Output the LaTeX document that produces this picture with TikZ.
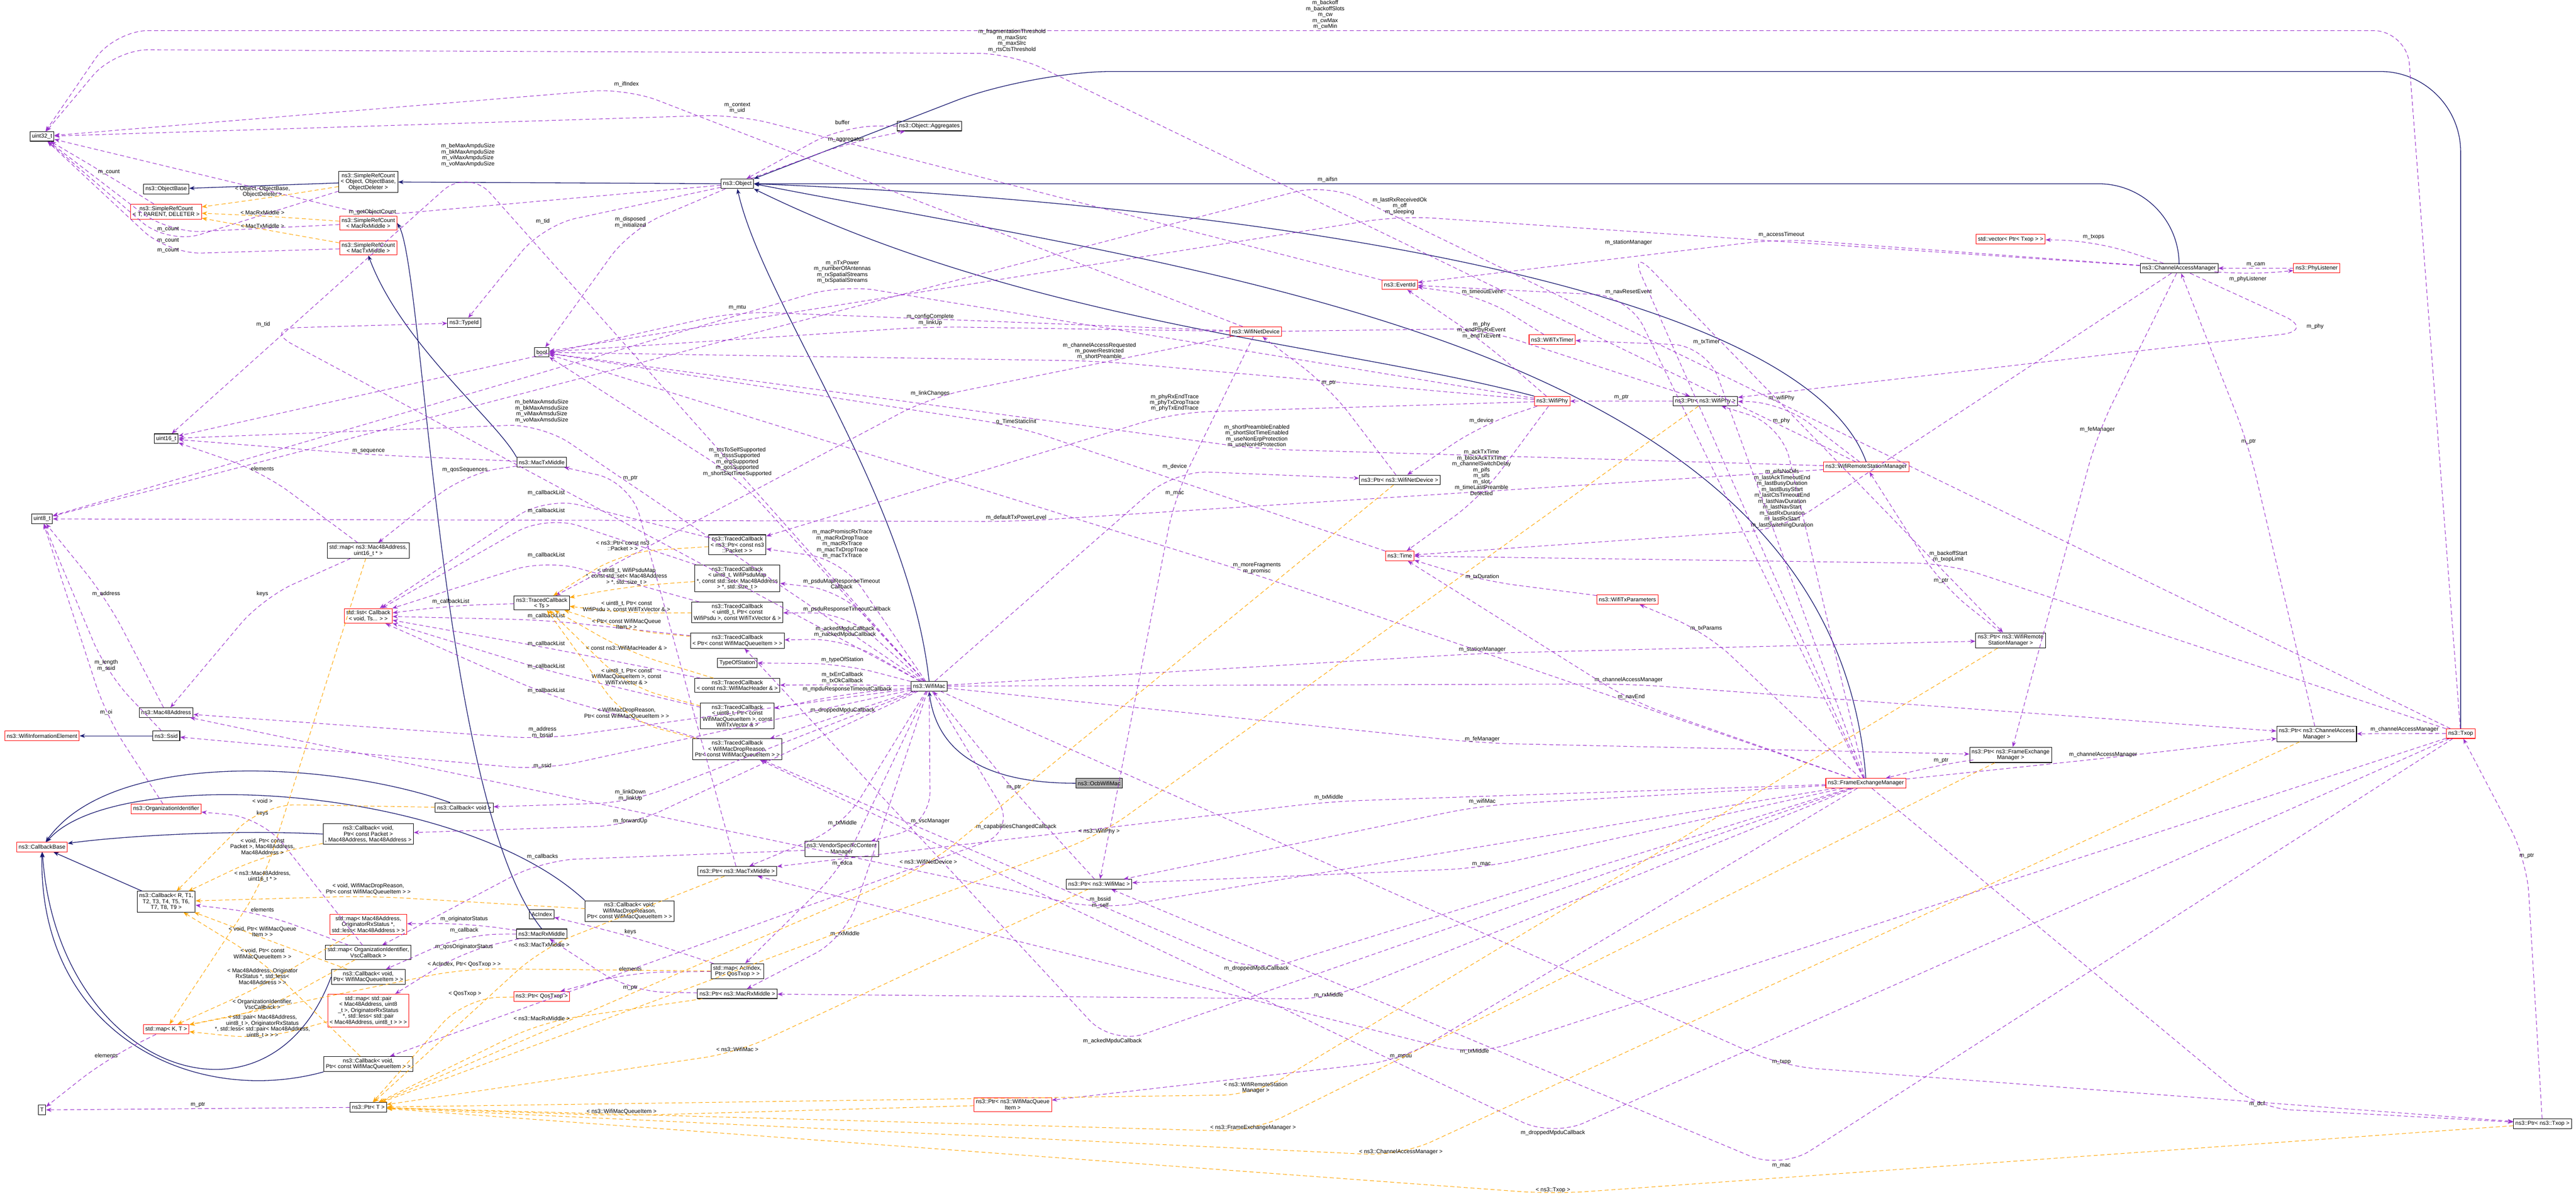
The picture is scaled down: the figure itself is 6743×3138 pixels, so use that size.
\documentclass[tikz,border=0pt]{standalone}
\usepackage{fontspec}
\setmainfont{Liberation Sans}
\usetikzlibrary{arrows.meta}
\definecolor{usecol}{HTML}{9A32CD}
\definecolor{inhcol}{HTML}{191970}
\definecolor{tplcol}{HTML}{FFA500}
\tikzset{
  cls/.style={draw=black, fill=white, font=\fontsize{4.2}{4.4}\selectfont, inner sep=1.5pt, align=center, minimum height=0.25cm},
  red/.style={cls, draw=red},
  cur/.style={cls, fill=black!30},
  lbl/.style={text=black, font=\fontsize{4.2}{4.4}\selectfont, inner sep=0.8pt, align=center, anchor=south},
  use/.style={usecol, densely dashed, line width=0.4pt, rounded corners=25pt, -{Stealth[length=4pt,width=3pt]}},
  inh/.style={inhcol, line width=0.5pt, -{Stealth[length=4pt,width=3pt]}},
  tpl/.style={tplcol, densely dashed, line width=0.4pt, rounded corners=25pt, -{Stealth[length=4pt,width=3pt]}}
}
\begin{document}
\begin{tikzpicture}[x=0.01cm,y=-0.01cm]
\useasboundingbox (0,0) rectangle (6743,3138);
% left column
\node[cls] (u32) at (110,357) {uint32\_t};
\node[cls] (u8) at (110,1358) {uint8\_t};
\node[red] (wie) at (110,1926) {ns3::WifiInformationElement};
\node[red] (cbbase) at (110,2217) {ns3::CallbackBase};
\node[cls] (tt) at (110,2905) {T};
\node[cls] (objbase) at (435,495) {ns3::ObjectBase};
\node[red] (srct) at (435,554) {ns3::SimpleRefCount\\< T, PARENT, DELETER >};
\node[cls] (u16) at (435,1148) {uint16\_t};
\node[cls] (mac48) at (435,1865) {ns3::Mac48Address};
\node[cls] (ssid) at (435,1926) {ns3::Ssid};
\node[red] (orgid) at (435,2117) {ns3::OrganizationIdentifier};
\node[cls] (cbr) at (435,2360) {ns3::Callback< R, T1,\\T2, T3, T4, T5, T6,\\T7, T8, T9 >};
\node[red] (mapkt) at (435,2694) {std::map< K, T >};
% second column
\node[cls] (srcobj) at (964,476) {ns3::SimpleRefCount\\< Object, ObjectBase,\\ObjectDeleter >};
\node[red] (srcrx) at (964,584) {ns3::SimpleRefCount\\< MacRxMiddle >};
\node[red] (srctx) at (964,649) {ns3::SimpleRefCount\\< MacTxMiddle >};
\node[cls] (mapseq) at (964,1441) {std::map< ns3::Mac48Address,\\uint16\_t * >};
\node[red] (cblist) at (964,1612) {std::list< Callback\\< void, Ts... > >};
\node[cls] (cbfwd) at (964,2183) {ns3::Callback< void,\\Ptr< const Packet >\\, Mac48Address, Mac48Address >};
\node[red] (maporig) at (964,2419) {std::map< Mac48Address,\\OriginatorRxStatus *,\\std::less< Mac48Address > >};
\node[cls] (mapvsc) at (964,2493) {std::map< OrganizationIdentifier,\\VscCallback >};
\node[cls] (cbitem) at (964,2557) {ns3::Callback< void,\\Ptr< WifiMacQueueItem > >};
\node[red] (mappair) at (964,2645) {std::map< std::pair\\< Mac48Address, uint8\\\_t >, OriginatorRxStatus\\*, std::less< std::pair\\< Mac48Address, uint8\_t > > >};
\node[cls] (cbcitem) at (964,2785) {ns3::Callback< void,\\Ptr< const WifiMacQueueItem > >};
\node[cls] (ptrt) at (964,2898) {ns3::Ptr< T >};
% third column
\node[cls] (typeid) at (1215,845) {ns3::TypeId};
\node[cls] (cbvoid) at (1215,2114) {ns3::Callback< void >};
\node[cls] (bool) at (1418,922) {bool};
\node[cls] (txmid) at (1418,1210) {ns3::MacTxMiddle};
\node[cls] (tcts) at (1418,1578) {ns3::TracedCallback\\< Ts >};
\node[cls] (acidx) at (1418,2393) {AcIndex};
\node[cls] (rxmid) at (1418,2444) {ns3::MacRxMiddle};
\node[red] (ptrqos) at (1418,2608) {ns3::Ptr< QosTxop >};
\node[cls] (cbdrop) at (1648,2385) {ns3::Callback< void,\\WifiMacDropReason,\\Ptr< const WifiMacQueueItem > >};
% traced callbacks
\node[cls] (obj) at (1930,481) {ns3::Object};
\node[cls] (tcpkt) at (1930,1426) {ns3::TracedCallback\\< ns3::Ptr< const ns3\\::Packet > >};
\node[cls] (tcpsdumap) at (1930,1514) {ns3::TracedCallback\\< uint8\_t, WifiPsduMap\\*, const std::set< Mac48Address\\> *, std::size\_t >};
\node[cls] (tcpsdu) at (1930,1603) {ns3::TracedCallback\\< uint8\_t, Ptr< const\\WifiPsdu >, const WifiTxVector \& >};
\node[cls] (tcitem) at (1930,1677) {ns3::TracedCallback\\< Ptr< const WifiMacQueueItem > >};
\node[cls] (tos) at (1930,1735) {TypeOfStation};
\node[cls] (tchdr) at (1930,1794) {ns3::TracedCallback\\< const ns3::WifiMacHeader \& >};
\node[cls] (tcmpdu) at (1930,1874) {ns3::TracedCallback\\< uint8\_t, Ptr< const\\WifiMacQueueItem >, const\\WifiTxVector \& >};
\node[cls] (tcdrop) at (1930,1961) {ns3::TracedCallback\\< WifiMacDropReason,\\Ptr< const WifiMacQueueItem > >};
\node[cls] (ptrtx) at (1930,2280) {ns3::Ptr< ns3::MacTxMiddle >};
\node[cls] (mapedca) at (1930,2542) {std::map< AcIndex,\\Ptr< QosTxop > >};
\node[cls] (ptrrx) at (1930,2601) {ns3::Ptr< ns3::MacRxMiddle >};
\node[cls] (vsc) at (2203,2222) {ns3::VendorSpecificContent\\Manager};
% middle
\node[cls] (aggr) at (2433,330) {ns3::Object::Aggregates};
\node[cls] (wmac) at (2432,1796) {ns3::WifiMac};
\node[red] (ptritem) at (2651,2891) {ns3::Ptr< ns3::WifiMacQueue\\Item >};
\node[cur] (ocb) at (2877,2050) {ns3::OcbWifiMac};
\node[cls] (ptrmac) at (2877,2314) {ns3::Ptr< ns3::WifiMac >};
\node[red] (netdev) at (3287,868) {ns3::WifiNetDevice};
\node[red] (eventid) at (3664,745) {ns3::EventId};
\node[cls] (ptrdev) at (3664,1256) {ns3::Ptr< ns3::WifiNetDevice >};
\node[red] (time) at (3664,1455) {ns3::Time};
\node[red] (txtimer) at (4063,889) {ns3::WifiTxTimer};
\node[red] (phy) at (4063,1050) {ns3::WifiPhy};
\node[red] (txparams) at (4260,1569) {ns3::WifiTxParameters};
\node[cls] (ptrphy) at (4464,1050) {ns3::Ptr< ns3::WifiPhy >};
\node[red] (rsm) at (4885,1222) {ns3::WifiRemoteStationManager};
\node[red] (fem) at (4884,2050) {ns3::FrameExchangeManager};
% right
\node[red] (vectxop) at (5263,626) {std::vector< Ptr< Txop > >};
\node[cls] (cam) at (5704,702) {ns3::ChannelAccessManager};
\node[red] (phylist) at (6064,702) {ns3::PhyListener};
\node[cls] (ptrrsm) at (5263,1676) {ns3::Ptr< ns3::WifiRemote\\StationManager >};
\node[cls] (ptrfem) at (5263,1976) {ns3::Ptr< ns3::FrameExchange\\Manager >};
\node[cls] (ptrcam) at (6064,1921) {ns3::Ptr< ns3::ChannelAccess\\Manager >};
\node[red] (txop) at (6441,1920) {ns3::Txop};
\node[cls] (ptrtxop) at (6655,2941) {ns3::Ptr< ns3::Txop >};

% inheritance
\draw[inh] (srcobj) -- (objbase);
\draw[inh] (obj) -- (srcobj);
\draw[inh] (ssid) -- (wie);
\draw[inh, rounded corners=60pt] (txop.north) |- (2700,187) -- (obj.north east);
\draw[inh, rounded corners=60pt] (cam.north) |- (obj.east);
\draw[inh] (rsm.north) .. controls (4700,700) and (3000,520) .. (obj.east);
\draw[inh] (fem.north) .. controls (4800,900) and (3200,720) .. (obj.east);
\draw[inh] (phy.north west) .. controls (3500,900) and (2700,850) .. (obj.south east);
\draw[inh] (wmac.north) .. controls (2380,1300) and (2000,800) .. (obj.south);
\draw[inh] (ocb.west) .. controls (2550,2050) and (2450,1950) .. (wmac.south);
\draw[inh] (txmid.north west) .. controls (1300,1100) and (1050,900) .. (srctx.south);
\draw[inh] (rxmid.north) .. controls (1150,2100) and (1110,700) .. (srcrx.east);
\draw[inh] (cbr) -- (cbbase);
\draw[inh] (cbvoid) .. controls (900,2000) and (300,1950) .. (cbbase);
\draw[inh] (cbfwd.west) .. controls (600,2170) and (300,2190) .. (cbbase);
\draw[inh] (cbdrop.north west) .. controls (1200,2050) and (300,2000) .. (cbbase);
\draw[inh] (cbitem.west) .. controls (700,3000) and (150,2800) .. (cbbase);
\draw[inh] (cbcitem.south west) .. controls (500,2900) and (100,2700) .. (cbbase.south);

% members
\draw[use] (txop) -- (6300,80) -- (3469,80) node[lbl]{m\_backoff\\m\_backoffSlots\\m\_cw\\m\_cwMax\\m\_cwMin} -- (300,80) -- (u32);
\draw[use] (rsm) -- (2649,140) node[lbl]{m\_fragmentationThreshold\\m\_maxSsrc\\m\_maxSlrc\\m\_rtsCtsThreshold} -- (300,130) -- (u32);
\draw[use] (netdev) -- (1640,231) node[lbl]{m\_ifIndex} -- (u32);
\draw[use] (eventid) -- (1930,300) node[lbl]{m\_context\\m\_uid} -- (u32);
\draw[use] (obj) -- (975,565) node[lbl]{m\_getObjectCount} -- (u32);
\draw[use] (srcobj) -- (440,640) node[lbl]{m\_count} -- (u32);
\draw[use] (srct) -- (285,460) node[lbl]{m\_count} -- (u32);
\draw[use] (srcrx) -- (440,610) node[lbl]{m\_count} -- (u32);
\draw[use] (srctx) -- (440,665) node[lbl]{m\_count} -- (u32);
\draw[use] (obj) -- (1650,600) node[lbl]{m\_disposed\\m\_initialized} -- (bool);
\draw[use] (obj) -- (1421,590) node[lbl]{m\_tid} -- (typeid);
\draw[use] (wmac) -- (689,860) node[lbl]{m\_tid} -- (typeid);
\draw[use] (aggr) -- (2205,330) node[lbl]{buffer} -- (obj);
\draw[use] (obj) -- (2215,375) node[lbl]{m\_aggregates} -- (aggr);
\draw[use] (wmac) -- (1225,440) node[lbl]{m\_beMaxAmpduSize\\m\_bkMaxAmpduSize\\m\_viMaxAmpduSize\\m\_voMaxAmpduSize} -- (u16);
\draw[use] (wmac) -- (1418,1110) node[lbl]{m\_beMaxAmsduSize\\m\_bkMaxAmsduSize\\m\_viMaxAmsduSize\\m\_voMaxAmsduSize} -- (u16);
\draw[use] (txmid) -- (965,1190) node[lbl]{m\_sequence} -- (u16);
\draw[use] (txmid) -- (1217,1240) node[lbl]{m\_qosSequences} -- (mapseq);
\draw[use] (mapseq) -- (687,1235) node[lbl]{elements} -- (u16);
\draw[use] (mapseq) -- (687,1565) node[lbl]{keys} -- (mac48);
\draw[use] (mac48) -- (278,1565) node[lbl]{m\_address} -- (u8);
\draw[use] (ssid) -- (278,1760) node[lbl]{m\_length\\m\_ssid} -- (u8);
\draw[use] (orgid) -- (278,1875) node[lbl]{m\_oi} -- (u8);
\draw[use] (phy) -- (2205,745) node[lbl]{m\_nTxPower\\m\_numberOfAntennas\\m\_rxSpatialStreams\\m\_txSpatialStreams} -- (u8);
\draw[use] (rsm) -- (2660,1365) node[lbl]{m\_defaultTxPowerLevel} -- (u8);
\draw[use] (txop) -- (3475,480) node[lbl]{m\_aifsn} -- (u8);
\draw[use] (tcts) -- (1180,1585) node[lbl]{m\_callbackList} -- (cblist);
\foreach \n/\y in {tcpkt/1300, tcpsdumap/1348, tcpsdu/1464, tcitem/1623, tchdr/1695, tcmpdu/1755, tcdrop/1818}
  \draw[use] (\n) -- (1430,\y) node[lbl]{m\_callbackList} -- (cblist);
\draw[use] (wmac) -- (2205,1465) node[lbl]{m\_macPromiscRxTrace\\m\_macRxDropTrace\\m\_macRxTrace\\m\_macTxDropTrace\\m\_macTxTrace} -- (tcpkt);
\draw[use] (wmac) -- (2203,1545) node[lbl]{m\_psduMapResponseTimeout\\Callback} -- (tcpsdumap);
\draw[use] (wmac) -- (2217,1605) node[lbl]{m\_psduResponseTimeoutCallback} -- (tcpsdu);
\draw[use] (wmac) -- (2212,1672) node[lbl]{m\_ackedMpduCallback\\m\_nackedMpduCallback} -- (tcitem);
\draw[use] (wmac) -- (2205,1737) node[lbl]{m\_typeOfStation} -- (tos);
\draw[use] (wmac) -- (2205,1792) node[lbl]{m\_txErrCallback\\m\_txOkCallback} -- (tchdr);
\draw[use] (wmac) -- (2218,1815) node[lbl]{m\_mpduResponseTimeoutCallback} -- (tcmpdu);
\draw[use] (wmac) -- (2206,1870) node[lbl]{m\_droppedMpduCallback} -- (tcdrop);
\draw[use] (wmac) -- (1930,1250) node[lbl]{m\_ctsToSelfSupported\\m\_dsssSupported\\m\_erpSupported\\m\_qosSupported\\m\_shortSlotTimeSupported} -- (bool);
\draw[use] (wmac) -- (1420,1935) node[lbl]{m\_address\\m\_bssid} -- (mac48);
\draw[use] (wmac) -- (1420,2015) node[lbl]{m\_ssid} -- (ssid);
\draw[use] (wmac) -- (1650,2100) node[lbl]{m\_linkDown\\m\_linkUp} -- (cbvoid);
\draw[use] (wmac) -- (1650,2160) node[lbl]{m\_forwardUp} -- (cbfwd);
\draw[use] (wmac) -- (2435,2160) node[lbl]{m\_vscManager} -- (vsc);
\draw[use] (wmac) -- (2205,2165) node[lbl]{m\_txMiddle} -- (ptrtx);
\draw[use] (wmac) -- (2205,2270) node[lbl]{m\_edca} -- (mapedca);
\draw[use] (wmac) -- (2212,2455) node[lbl]{m\_rxMiddle} -- (ptrrx);
\draw[use] (wmac) -- (2660,2175) node[lbl]{m\_capabilitiesChangedCallback} -- (cbcitem);
\draw[use] (wmac) -- (3075,1232) node[lbl]{m\_device} -- (ptrdev);
\draw[use] (wmac) -- (3880,1710) node[lbl]{m\_stationManager} -- (ptrrsm);
\draw[use] (wmac) -- (4263,1790) node[lbl]{m\_channelAccessManager} -- (ptrcam);
\draw[use] (wmac) -- (3880,1945) node[lbl]{m\_feManager} -- (ptrfem);
\draw[use] (wmac) -- (4663,2790) node[lbl]{m\_txop} -- (ptrtxop);
\draw[use] (ptrmac) -- (2654,2070) node[lbl]{m\_ptr} -- (wmac);
\draw[use] (netdev) -- (1930,815) node[lbl]{m\_mtu} -- (u16);
\draw[use] (netdev) -- (2435,855) node[lbl]{m\_configComplete\\m\_linkUp} -- (bool);
\draw[use] (netdev) -- (2435,1040) node[lbl]{m\_linkChanges} -- (tcts);
\draw[use] (netdev) -- (3075,1300) node[lbl]{m\_mac} -- (ptrmac);
\draw[use] (netdev) -- (3878,860) node[lbl]{m\_phy} -- (ptrphy);
\draw[use] (phy) -- (3075,1080) node[lbl]{m\_phyRxEndTrace\\m\_phyTxDropTrace\\m\_phyTxEndTrace} -- (tcpkt);
\draw[use] (phy) -- (2878,945) node[lbl]{m\_channelAccessRequested\\m\_powerRestricted\\m\_shortPreamble} -- (bool);
\draw[use] (phy) -- (3878,890) node[lbl]{m\_endPhyRxEvent\\m\_endTxEvent} -- (eventid);
\draw[use] (phy) -- (3878,1300) node[lbl]{m\_ackTxTime\\m\_blockAckTxTime\\m\_channelSwitchDelay\\m\_pifs\\m\_sifs\\m\_slot\\m\_timeLastPreamble\\Detected} -- (time);
\draw[use] (phy) -- (3878,1112) node[lbl]{m\_device} -- (ptrdev);
\draw[use] (ptrdev) -- (3478,1012) node[lbl]{m\_ptr} -- (netdev);
\draw[use] (ptrphy) -- (phy) node[lbl, pos=.5]{m\_ptr};
\draw[use] (time) -- (2660,1115) node[lbl]{g\_TimeStaticInit} -- (bool);
\draw[use] (txtimer) -- (3880,775) node[lbl]{m\_timeoutEvent} -- (eventid);
\draw[use] (txparams) -- (3880,1520) node[lbl]{m\_txDuration} -- (time);
\draw[use] (rsm) -- (4663,1052) node[lbl]{m\_wifiPhy} -- (ptrphy);
\draw[use] (rsm) -- (3290,1175) node[lbl]{m\_shortPreambleEnabled\\m\_shortSlotTimeEnabled\\m\_useNonErpProtection\\m\_useNonHtProtection} -- (bool);
\draw[use] (cam) -- (6060,865) node[lbl]{m\_phy} -- (ptrphy);
\draw[use] (cam) -- (4663,625) node[lbl]{m\_accessTimeout} -- (eventid);
\draw[use] (cam) -- (3664,565) node[lbl]{m\_lastRxReceivedOk\\m\_off\\m\_sleeping} -- (bool);
\draw[use] (cam) -- (4665,1385) node[lbl]{m\_eifsNoDifs\\m\_lastAckTimeoutEnd\\m\_lastBusyDuration\\m\_lastBusyStart\\m\_lastCtsTimeoutEnd\\m\_lastNavDuration\\m\_lastNavStart\\m\_lastRxDuration\\m\_lastRxStart\\m\_lastSwitchingDuration} -- (time);
\draw[use] (cam) -- (5480,630) node[lbl]{m\_txops} -- (vectxop);
\draw[use] (cam) -- (5884,720) node[lbl, anchor=north]{m\_phyListener} -- (phylist);
\draw[use] (phylist) -- (cam) node[lbl, pos=.5]{m\_cam};
\draw[use] (cam) -- (5490,1135) node[lbl]{m\_feManager} -- (ptrfem);
\draw[use] (ptrcam) -- (5886,1165) node[lbl]{m\_ptr} -- (cam);
\draw[use] (ptrrsm) -- (5081,1530) node[lbl]{m\_ptr} -- (rsm);
\draw[use] (ptrfem) -- (5081,2000) node[lbl]{m\_ptr} -- (fem);
\draw[use] (fem) -- (4263,775) node[lbl]{m\_navResetEvent} -- (eventid);
\draw[use] (fem) -- (4467,905) node[lbl]{m\_txTimer} -- (txtimer);
\draw[use] (fem) -- (4663,1112) node[lbl]{m\_phy} -- (ptrphy);
\draw[use] (fem) -- (4263,645) node[lbl]{m\_stationManager} -- (ptrrsm);
\draw[use] (fem) -- (4270,1835) node[lbl]{m\_navEnd} -- (time);
\draw[use] (fem) -- (4466,1655) node[lbl]{m\_txParams} -- (txparams);
\draw[use] (fem) -- (3290,1505) node[lbl]{m\_moreFragments\\m\_promisc} -- (bool);
\draw[use] (fem) -- (5505,1985) node[lbl]{m\_channelAccessManager} -- (ptrcam);
\draw[use] (fem) -- (3478,2098) node[lbl]{m\_txMiddle} -- (ptrtx);
\draw[use] (fem) -- (3880,2108) node[lbl]{m\_wifiMac} -- (ptrmac);
\draw[use] (fem) -- (3878,2272) node[lbl]{m\_mac} -- (ptrmac);
\draw[use] (fem) -- (3478,2615) node[lbl]{m\_rxMiddle} -- (ptrrx);
\draw[use] (fem) -- (3667,2775) node[lbl]{m\_mpdu} -- (ptritem);
\draw[use] (fem) -- (5908,2900) node[lbl]{m\_dcf} -- (ptrtxop);
\draw[use] (fem) -- (2880,2380) node[lbl]{m\_bssid\\m\_self} -- (mac48);
\draw[use] (fem) -- (3289,2545) node[lbl]{m\_droppedMpduCallback} -- (tcdrop);
\draw[use] (fem) -- (2912,2735) node[lbl]{m\_ackedMpduCallback} -- (tcitem);
\draw[use] (txop) -- (6294,1920) node[lbl]{m\_channelAccessManager} -- (ptrcam);
\draw[use] (ptrtxop) -- (6614,2250) node[lbl]{m\_ptr} -- (txop);
\draw[use] (txop) -- (5100,1475) node[lbl]{m\_backoffStart\\m\_txopLimit} -- (time);
\draw[use] (txop) -- (3860,2762) node[lbl]{m\_txMiddle} -- (ptrtx);
\draw[use] (txop) -- (4663,3060) node[lbl]{m\_mac} -- (ptrmac);
\draw[use] (txop) -- (4065,2975) node[lbl]{m\_droppedMpduCallback} -- (tcdrop);
\draw[use] (mapedca) -- (1650,2450) node[lbl]{keys} -- (acidx);
\draw[use] (mapedca) -- (1650,2545) node[lbl]{elements} -- (ptrqos);
\draw[use] (mapvsc) -- (687,2140) node[lbl]{keys} -- (orgid);
\draw[use] (mapvsc) -- (687,2390) node[lbl]{elements} -- (cbr);
\draw[use] (vsc) -- (1420,2252) node[lbl]{m\_callbacks} -- (mapvsc);
\draw[use] (rxmid) -- (1215,2416) node[lbl]{m\_originatorStatus} -- (maporig);
\draw[use] (rxmid) -- (1215,2446) node[lbl]{m\_callback} -- (cbitem);
\draw[use] (rxmid) -- (1215,2489) node[lbl]{m\_qosOriginatorStatus} -- (mappair);
\draw[use] (ptrrx) -- (1650,2595) node[lbl]{m\_ptr} -- (rxmid);
\draw[use] (ptrtx) -- (1650,1262) node[lbl]{m\_ptr} -- (txmid);
\draw[use] (ptrt) -- (tt) node[lbl, pos=.5]{m\_ptr};
\draw[use] (mapkt) -- (278,2772) node[lbl]{elements} -- (tt);

% template instances
\draw[tpl] (srcobj) -- (687,520) node[lbl]{< Object, ObjectBase,\\ObjectDeleter >} -- (srct);
\draw[tpl] (srcrx) -- (687,565) node[lbl]{< MacRxMiddle >} -- (srct);
\draw[tpl] (srctx) -- (687,600) node[lbl]{< MacTxMiddle >} -- (srct);
\draw[tpl] (tcpkt) -- (1630,1445) node[lbl]{< ns3::Ptr< const ns3\\::Packet > >} -- (tcts);
\draw[tpl] (tcpsdumap) -- (1640,1535) node[lbl]{< uint8\_t, WifiPsduMap\\*, const std::set< Mac48Address\\> *, std::size\_t >} -- (tcts);
\draw[tpl] (tcpsdu) -- (1640,1605) node[lbl]{< uint8\_t, Ptr< const\\WifiPsdu >, const WifiTxVector \& >} -- (tcts);
\draw[tpl] (tcitem) -- (1640,1650) node[lbl]{< Ptr< const WifiMacQueue\\Item > >} -- (tcts);
\draw[tpl] (tchdr) -- (1640,1705) node[lbl]{< const ns3::WifiMacHeader \& >} -- (tcts);
\draw[tpl] (tcmpdu) -- (1640,1795) node[lbl]{< uint8\_t, Ptr< const\\WifiMacQueueItem >, const\\WifiTxVector \& >} -- (tcts);
\draw[tpl] (tcdrop) -- (1640,1885) node[lbl]{< WifiMacDropReason,\\Ptr< const WifiMacQueueItem > >} -- (tcts);
\draw[tpl] (cbvoid) -- (687,2105) node[lbl]{< void >} -- (cbr);
\draw[tpl] (cbfwd) -- (687,2240) node[lbl]{< void, Ptr< const\\Packet >, Mac48Address,\\Mac48Address >} -- (cbr);
\draw[tpl] (mapseq) -- (687,2312) node[lbl]{< ns3::Mac48Address,\\uint16\_t * >} -- (mapkt);
\draw[tpl] (cbdrop) -- (964,2345) node[lbl]{< void, WifiMacDropReason,\\Ptr< const WifiMacQueueItem > >} -- (cbr);
\draw[tpl] (cbitem) -- (687,2455) node[lbl]{< void, Ptr< WifiMacQueue\\Item > >} -- (cbr);
\draw[tpl] (cbcitem) -- (687,2515) node[lbl]{< void, Ptr< const\\WifiMacQueueItem > >} -- (cbr);
\draw[tpl] (maporig) -- (687,2580) node[lbl]{< Mac48Address, Originator\\RxStatus *, std::less<\\Mac48Address > >} -- (mapkt);
\draw[tpl] (mapvsc) -- (687,2645) node[lbl]{< OrganizationIdentifier,\\VscCallback >} -- (mapkt);
\draw[tpl] (mappair) -- (687,2720) node[lbl]{< std::pair< Mac48Address,\\uint8\_t >, OriginatorRxStatus\\*, std::less< std::pair< Mac48Address,\\uint8\_t > > >} -- (mapkt);
\draw[tpl] (mapedca) -- (1215,2535) node[lbl]{< AcIndex, Ptr< QosTxop > >} -- (mapkt);
\draw[tpl] (ptrqos) -- (1217,2612) node[lbl]{< QosTxop >} -- (ptrt);
\draw[tpl] (ptrtx) -- (1418,2482) node[lbl]{< ns3::MacTxMiddle >} -- (ptrt);
\draw[tpl] (ptrrx) -- (1418,2675) node[lbl]{< ns3::MacRxMiddle >} -- (ptrt);
\draw[tpl] (ptritem) -- (1627,2920) node[lbl]{< ns3::WifiMacQueueItem >} -- (ptrt);
\draw[tpl] (ptrmac) -- (1930,2755) node[lbl]{< ns3::WifiMac >} -- (ptrt);
\draw[tpl] (ptrdev) -- (2430,2265) node[lbl]{< ns3::WifiNetDevice >} -- (ptrt);
\draw[tpl] (ptrphy) -- (2877,2187) node[lbl]{< ns3::WifiPhy >} -- (ptrt);
\draw[tpl] (ptrrsm) -- (3287,2865) node[lbl]{< ns3::WifiRemoteStation\\Manager >} -- (ptrt);
\draw[tpl] (ptrfem) -- (3280,2962) node[lbl]{< ns3::FrameExchangeManager >} -- (ptrt);
\draw[tpl] (ptrcam) -- (3667,3025) node[lbl]{< ns3::ChannelAccessManager >} -- (ptrt);
\draw[tpl] (ptrtxop) -- (4065,3125) node[lbl]{< ns3::Txop >} -- (ptrt);
\end{tikzpicture}
\end{document}
